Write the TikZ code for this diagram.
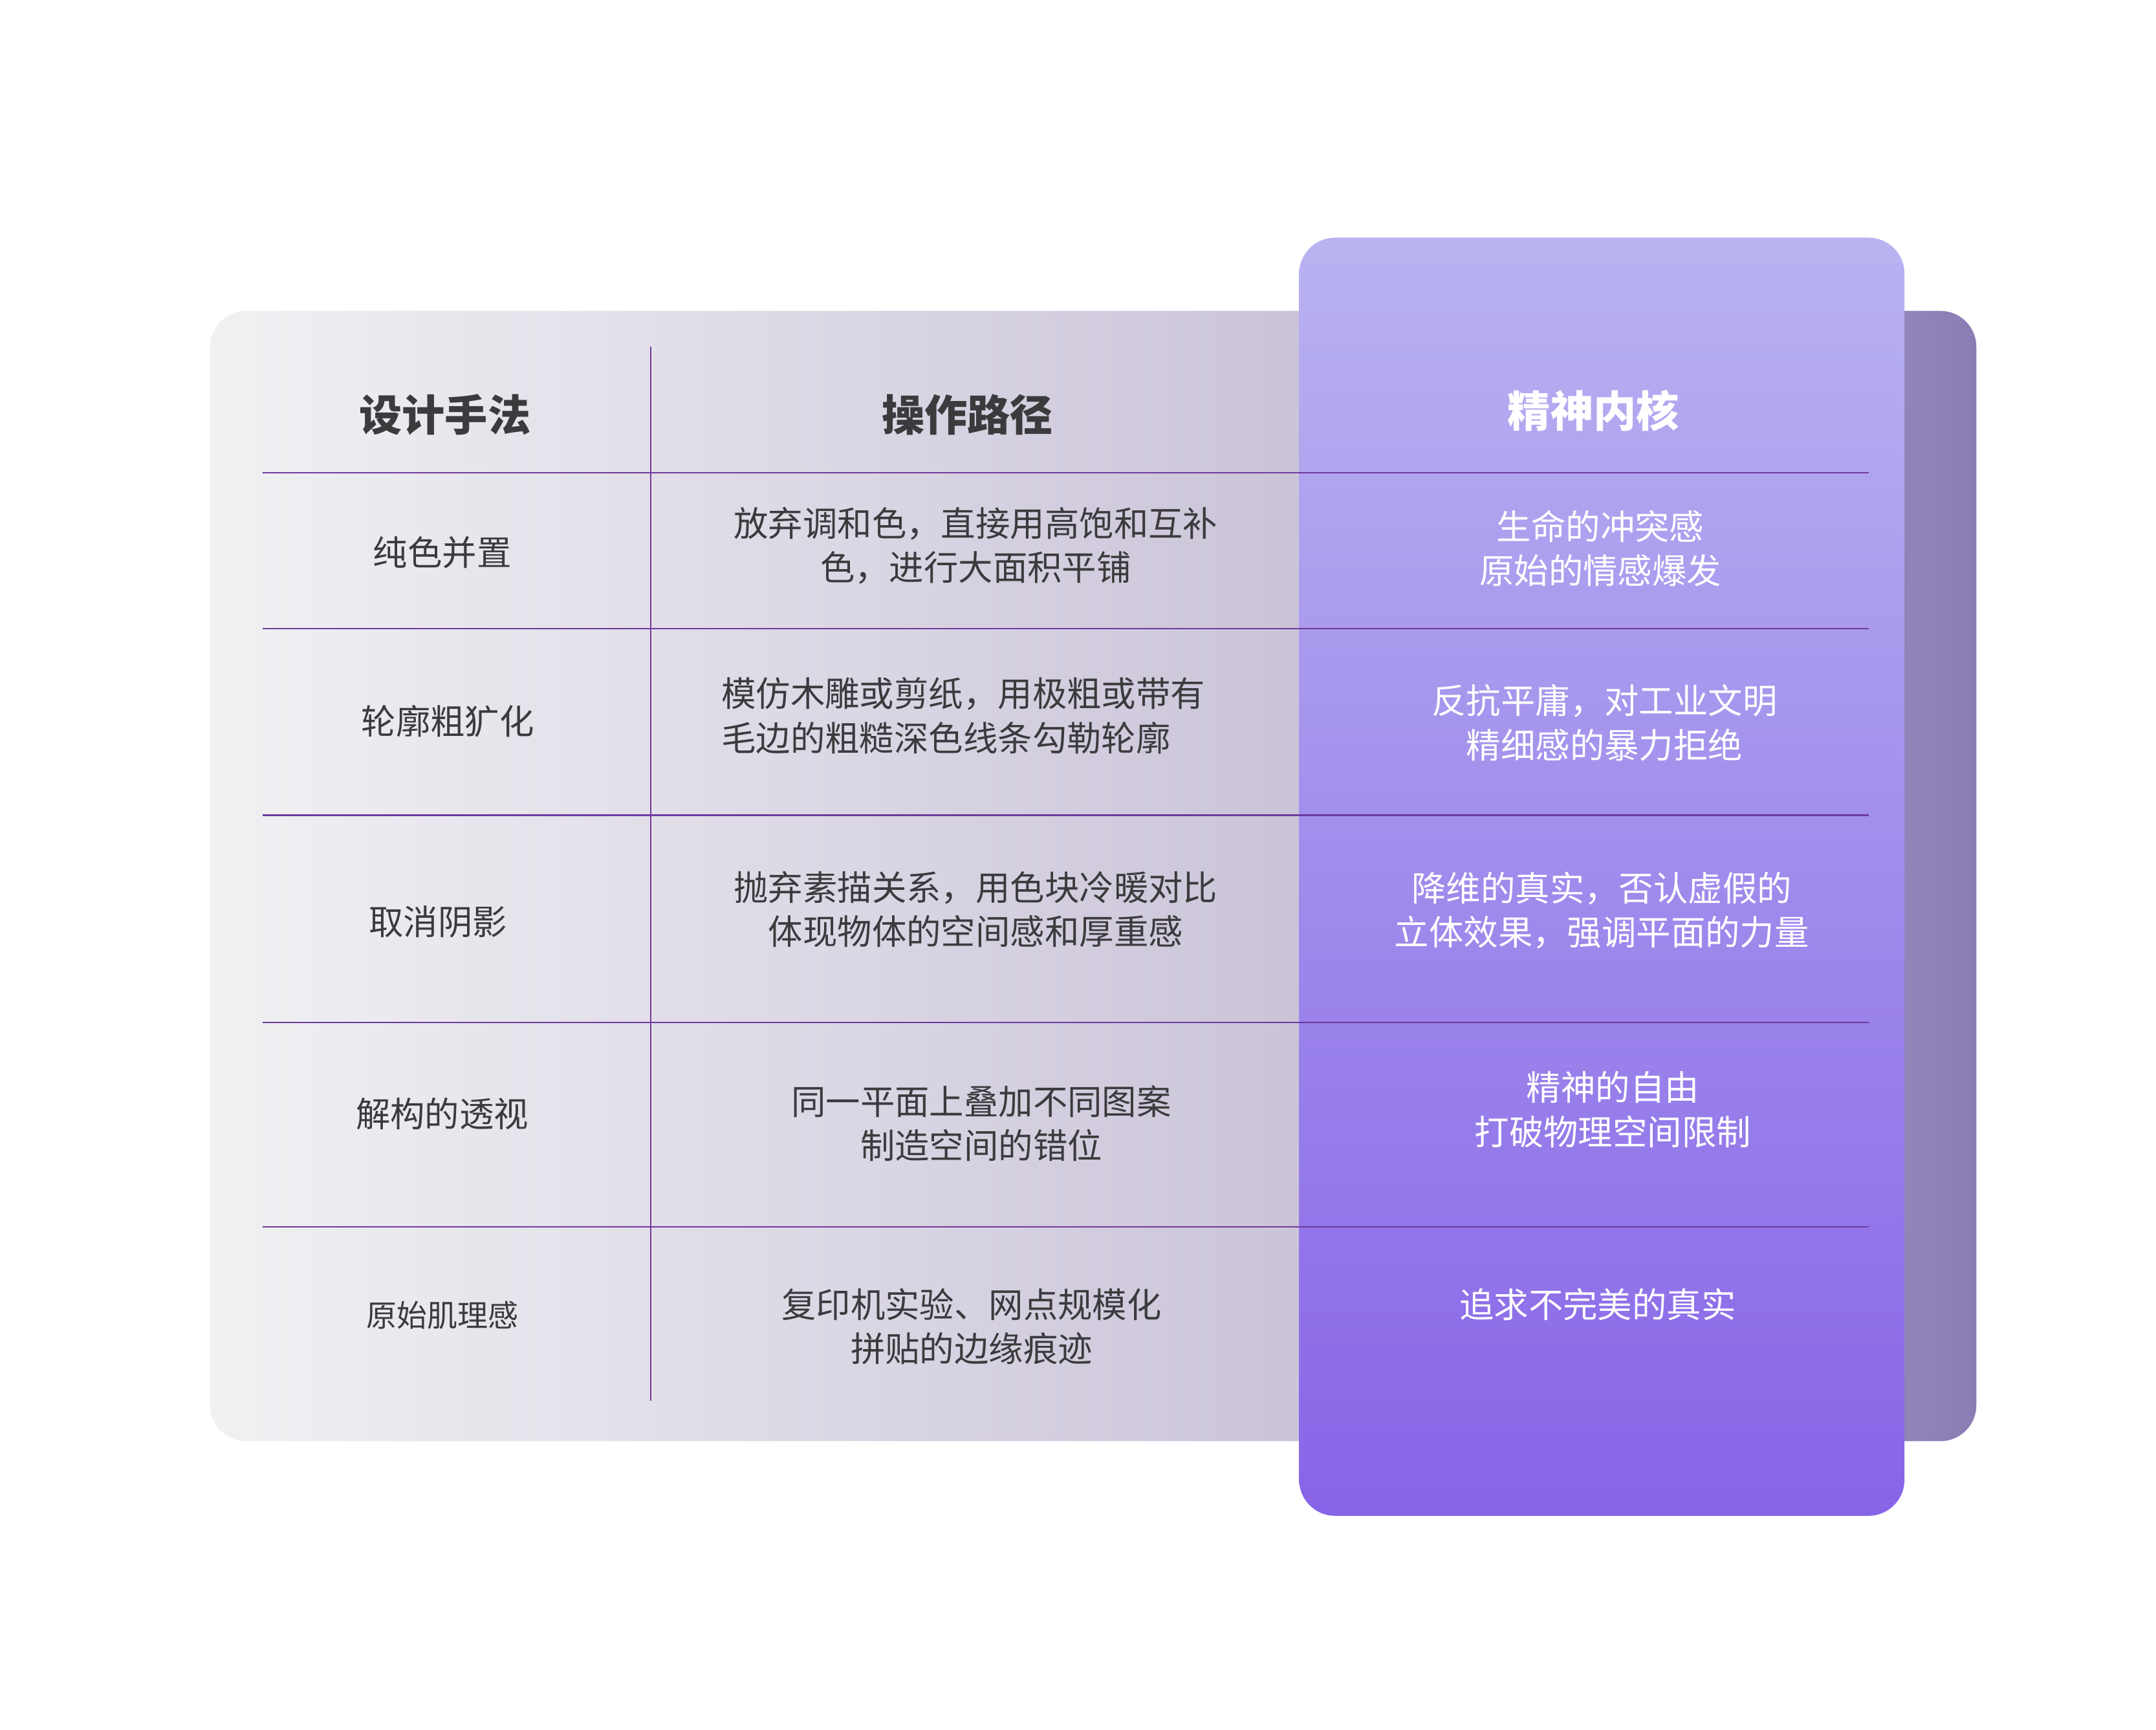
\documentclass[tikz,border=0pt]{standalone}
\usepackage{fontspec}
\setmainfont{Noto Sans CJK SC}
\definecolor{bgleft}{HTML}{F1F1F3}
\definecolor{bgmid}{HTML}{CBC4D9}
\definecolor{bgright}{HTML}{8A7DB4}
\definecolor{cardtop}{HTML}{B9B3F1}
\definecolor{cardbot}{HTML}{8764E7}
\definecolor{rulecol}{HTML}{6E3A9E}
\definecolor{txtcol}{HTML}{3B3B3D}
\pgfdeclarehorizontalshading{bgshade}{100bp}{color(0bp)=(bgleft); color(25bp)=(bgleft); color(55.8bp)=(bgmid); color(75bp)=(bgright); color(100bp)=(bgright)}
\tikzset{
  every picture/.style={line width=0.75pt},
  head/.style={font=\fontsize{31}{36}\selectfont\bfseries, text=txtcol},
  body/.style={font=\fontsize{25}{32}\selectfont, text=txtcol, align=center, inner sep=0pt},
  spirit/.style={body, text=white},
  rule/.style={draw=rulecol, line width=1.1pt}
}
\begin{document}
\begin{tikzpicture}[x=1pt,y=1pt,yscale=-1]
\useasboundingbox (0,0) rectangle (1560,1252);

%background panel
\shade[shading=bgshade, rounded corners=26] (152,225) rectangle (1430,1043);
%highlighted column
\shade[top color=cardtop, bottom color=cardbot, rounded corners=26] (940,172) rectangle (1378,1097);

%rules
\draw[rule] (471,251) -- (471,1014);
\foreach \yy in {342,455,590,740,888}
  \draw[rule] (190,\yy) -- (1352,\yy);

% header
\node[head] (hMethod) at (322,300) {设计手法};
\node[head] (hPath) at (700,300) {操作路径};
\node[head, text=white] (hCore) at (1153,297) {精神内核};

% row 1
\node[body] (m1) at (320,400) {纯色并置};
\node[body] (p1) at (706,395) {放弃调和色，直接用高饱和互补\\色，进行大面积平铺};
\node[spirit] (s1) at (1158,397) {生命的冲突感\\原始的情感爆发};

% row 2
\node[body] (m2) at (324,522) {轮廓粗犷化};
\node[body, align=left] (p2) at (697,518) {模仿木雕或剪纸，用极粗或带有\\毛边的粗糙深色线条勾勒轮廓};
\node[spirit] (s2) at (1161,523) {反抗平庸，对工业文明\\精细感的暴力拒绝};

% row 3
\node[body] (m3) at (317,667) {取消阴影};
\node[body] (p3) at (706,658) {抛弃素描关系，用色块冷暖对比\\体现物体的空间感和厚重感};
\node[spirit] (s3) at (1159,659) {降维的真实，否认虚假的\\立体效果，强调平面的力量};

% row 4
\node[body] (m4) at (320,806) {解构的透视};
\node[body] (p4) at (710,813) {同一平面上叠加不同图案\\制造空间的错位};
\node[spirit] (s4) at (1167,803) {精神的自由\\打破物理空间限制};

% row 5
\node[body, font=\fontsize{22}{28}\selectfont] (m5) at (320,952) {原始肌理感};
\node[body] (p5) at (703,960) {复印机实验、网点规模化\\拼贴的边缘痕迹};
\node[spirit] (s5) at (1156,944) {追求不完美的真实};

\end{tikzpicture}
\end{document}
